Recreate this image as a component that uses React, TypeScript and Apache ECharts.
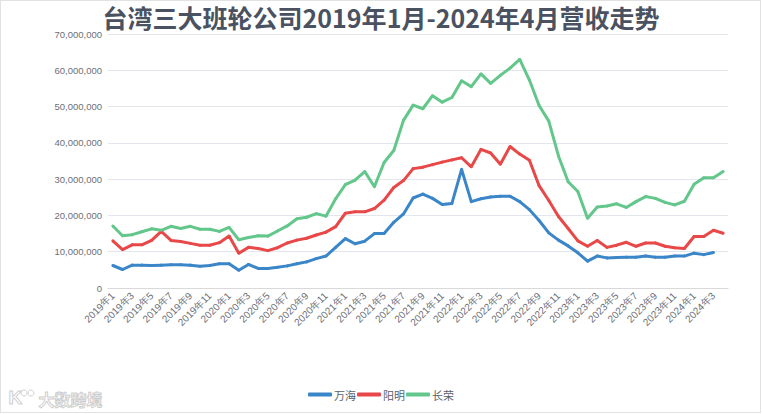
import React, { useEffect, useRef } from "react";
import * as echarts from "echarts";

const categories: string[] = [
  "2019年1", "2019年2", "2019年3", "2019年4", "2019年5", "2019年6", "2019年7", "2019年8", "2019年9", "2019年10", "2019年11", "2019年12",
  "2020年1", "2020年2", "2020年3", "2020年4", "2020年5", "2020年6", "2020年7", "2020年8", "2020年9", "2020年10", "2020年11", "2020年12",
  "2021年1", "2021年2", "2021年3", "2021年4", "2021年5", "2021年6", "2021年7", "2021年8", "2021年9", "2021年10", "2021年11", "2021年12",
  "2022年1", "2022年2", "2022年3", "2022年4", "2022年5", "2022年6", "2022年7", "2022年8", "2022年9", "2022年10", "2022年11", "2022年12",
  "2023年1", "2023年2", "2023年3", "2023年4", "2023年5", "2023年6", "2023年7", "2023年8", "2023年9", "2023年10", "2023年11", "2023年12",
  "2024年1", "2024年2", "2024年3", "2024年4",
];

// 万海 (Wan Hai) monthly revenue; no value for 2024年4
const wanHai: (number | null)[] = [
  6200000, 5100000, 6300000, 6300000, 6200000, 6300000, 6400000, 6400000, 6300000, 6000000, 6200000, 6700000,
  6700000, 4900000, 6500000, 5400000, 5400000, 5700000, 6100000, 6700000, 7200000, 8100000, 8800000, 11200000,
  13600000, 12200000, 12900000, 15000000, 15000000, 18100000, 20400000, 24800000, 25900000, 24700000, 23000000, 23300000,
  32700000, 23800000, 24600000, 25100000, 25300000, 25300000, 23800000, 21600000, 18600000, 15200000, 13200000, 11600000,
  9700000, 7400000, 8800000, 8300000, 8400000, 8500000, 8500000, 8800000, 8500000, 8500000, 8800000, 8800000,
  9600000, 9200000, 9800000, null,
];

// 阳明 (Yang Ming)
const yangMing: number[] = [
  13000000, 10600000, 11900000, 11900000, 13100000, 15600000, 13100000, 12800000, 12300000, 11800000, 11800000, 12500000,
  14300000, 9600000, 11200000, 10900000, 10300000, 11100000, 12400000, 13200000, 13700000, 14600000, 15400000, 16900000,
  20600000, 21000000, 21000000, 21900000, 24200000, 27700000, 29600000, 32900000, 33300000, 34000000, 34700000, 35300000,
  35900000, 33400000, 38200000, 37200000, 34100000, 39000000, 36900000, 35200000, 28200000, 24100000, 19700000, 16400000,
  13000000, 11500000, 13100000, 11200000, 11800000, 12600000, 11500000, 12400000, 12400000, 11500000, 11100000, 10900000,
  14200000, 14200000, 15900000, 15100000,
];

// 长荣 (Evergreen)
const changRong: number[] = [
  17100000, 14400000, 14700000, 15500000, 16300000, 15900000, 17000000, 16400000, 17000000, 16200000, 16200000, 15600000,
  16700000, 13300000, 13900000, 14400000, 14300000, 15700000, 17100000, 19100000, 19500000, 20500000, 19800000, 24600000,
  28500000, 29700000, 32100000, 27900000, 34600000, 37900000, 46200000, 50400000, 49400000, 53000000, 51200000, 52500000,
  57100000, 55500000, 59000000, 56400000, 58600000, 60600000, 63000000, 57300000, 50300000, 46000000, 36400000, 29300000,
  26600000, 19200000, 22300000, 22600000, 23200000, 22200000, 23800000, 25200000, 24700000, 23600000, 22900000, 23900000,
  28600000, 30400000, 30400000, 32100000,
];

const seriesNames = ["万海", "阳明", "长荣"];
const seriesColors = ["#3A86C8", "#E84848", "#63C78B"];
const titleText = "台湾三大班轮公司2019年1月-2024年4月营收走势";

const fmt = (v: number) => String(v).replace(/\B(?=(\d{3})+(?!\d))/g, ",");

export default function App() {
  const ref = useRef<HTMLDivElement>(null);

  useEffect(() => {
    document.body.style.margin = "0";
    if (!ref.current) return;
    const chart = echarts.init(ref.current, null, { renderer: "svg" });
    const dataSets = [wanHai, yangMing, changRong];
    const font = "'Liberation Sans', Arial, sans-serif";
    chart.setOption({
      animation: false,
      textStyle: { fontFamily: font },
      grid: { left: 108, right: 34, top: 34, bottom: 126, containLabel: false },
      legend: {
        bottom: 9,
        left: "center",
        icon: "roundRect",
        itemWidth: 24,
        itemHeight: 4,
        itemGap: 1,
        textStyle: { fontSize: 11, color: "#5a5f6a", fontFamily: "'Noto Sans CJK SC', sans-serif", padding: [0, 0, 0, -3] },
        data: seriesNames,
      },
      graphic: [
        {
          type: "text",
          left: "center",
          top: 4,
          style: {
            text: titleText,
            fontSize: 25,
            fontWeight: "bold",
            fill: "#4a5261",
            fontFamily: "'Noto Sans CJK SC', sans-serif",
          },
        },
        {
          type: "text",
          left: 8,
          top: 387,
          style: {
            text: "K",
            fontSize: 19,
            fontWeight: "bold",
            fill: "rgba(255,255,255,0)",
            stroke: "#cfcfcf",
            lineWidth: 1,
            fontFamily: font,
          },
        },
        { type: "circle", shape: { cx: 24, cy: 393, r: 3 }, style: { fill: "none", stroke: "#cfcfcf", lineWidth: 1 } },
        { type: "circle", shape: { cx: 31, cy: 393, r: 3 }, style: { fill: "none", stroke: "#cfcfcf", lineWidth: 1 } },
        {
          type: "text",
          left: 38,
          top: 390,
          style: {
            text: "大数跨境",
            fontSize: 16,
            fontWeight: "bold",
            fill: "rgba(255,255,255,0)",
            stroke: "#cfcfcf",
            lineWidth: 1,
            fontFamily: "'Noto Sans CJK SC', sans-serif",
          },
        },
      ],
      xAxis: {
        type: "category",
        data: categories,
        boundaryGap: true,
        axisLine: { lineStyle: { color: "#d9d9d9" } },
        axisTick: { interval: 0, length: 4, lineStyle: { color: "#d9d9d9" } },
        axisLabel: { interval: 1, rotate: 45, fontSize: 10, color: "#6b6f78", margin: 6 },
      },
      yAxis: {
        type: "value",
        min: 0,
        max: 70000000,
        interval: 10000000,
        axisLine: { show: false },
        axisTick: { show: false },
        axisLabel: { fontSize: 9.5, color: "#6b6f78", margin: 6, formatter: (v: number) => fmt(v) },
        splitLine: { lineStyle: { color: "#e3e6ec" } },
      },
      series: seriesNames.map((name, i) => ({
        name,
        type: "line",
        data: dataSets[i],
        symbol: "circle",
        symbolSize: 3,
        showSymbol: true,
        connectNulls: false,
        lineStyle: { width: 3, color: seriesColors[i] },
        itemStyle: { color: seriesColors[i] },
      })),
    });
    return () => chart.dispose();
  }, []);

  return (
    <div style={{ position: "relative", width: 762, height: 414 }}>
      <div
        style={{
          position: "absolute",
          left: 0,
          top: 0,
          width: 761,
          height: 413,
          boxSizing: "border-box",
          border: "1px solid #e2e2e2",
        }}
      />
      <div ref={ref} style={{ position: "absolute", left: 0, top: 0, width: 762, height: 414 }} />
    </div>
  );
}
